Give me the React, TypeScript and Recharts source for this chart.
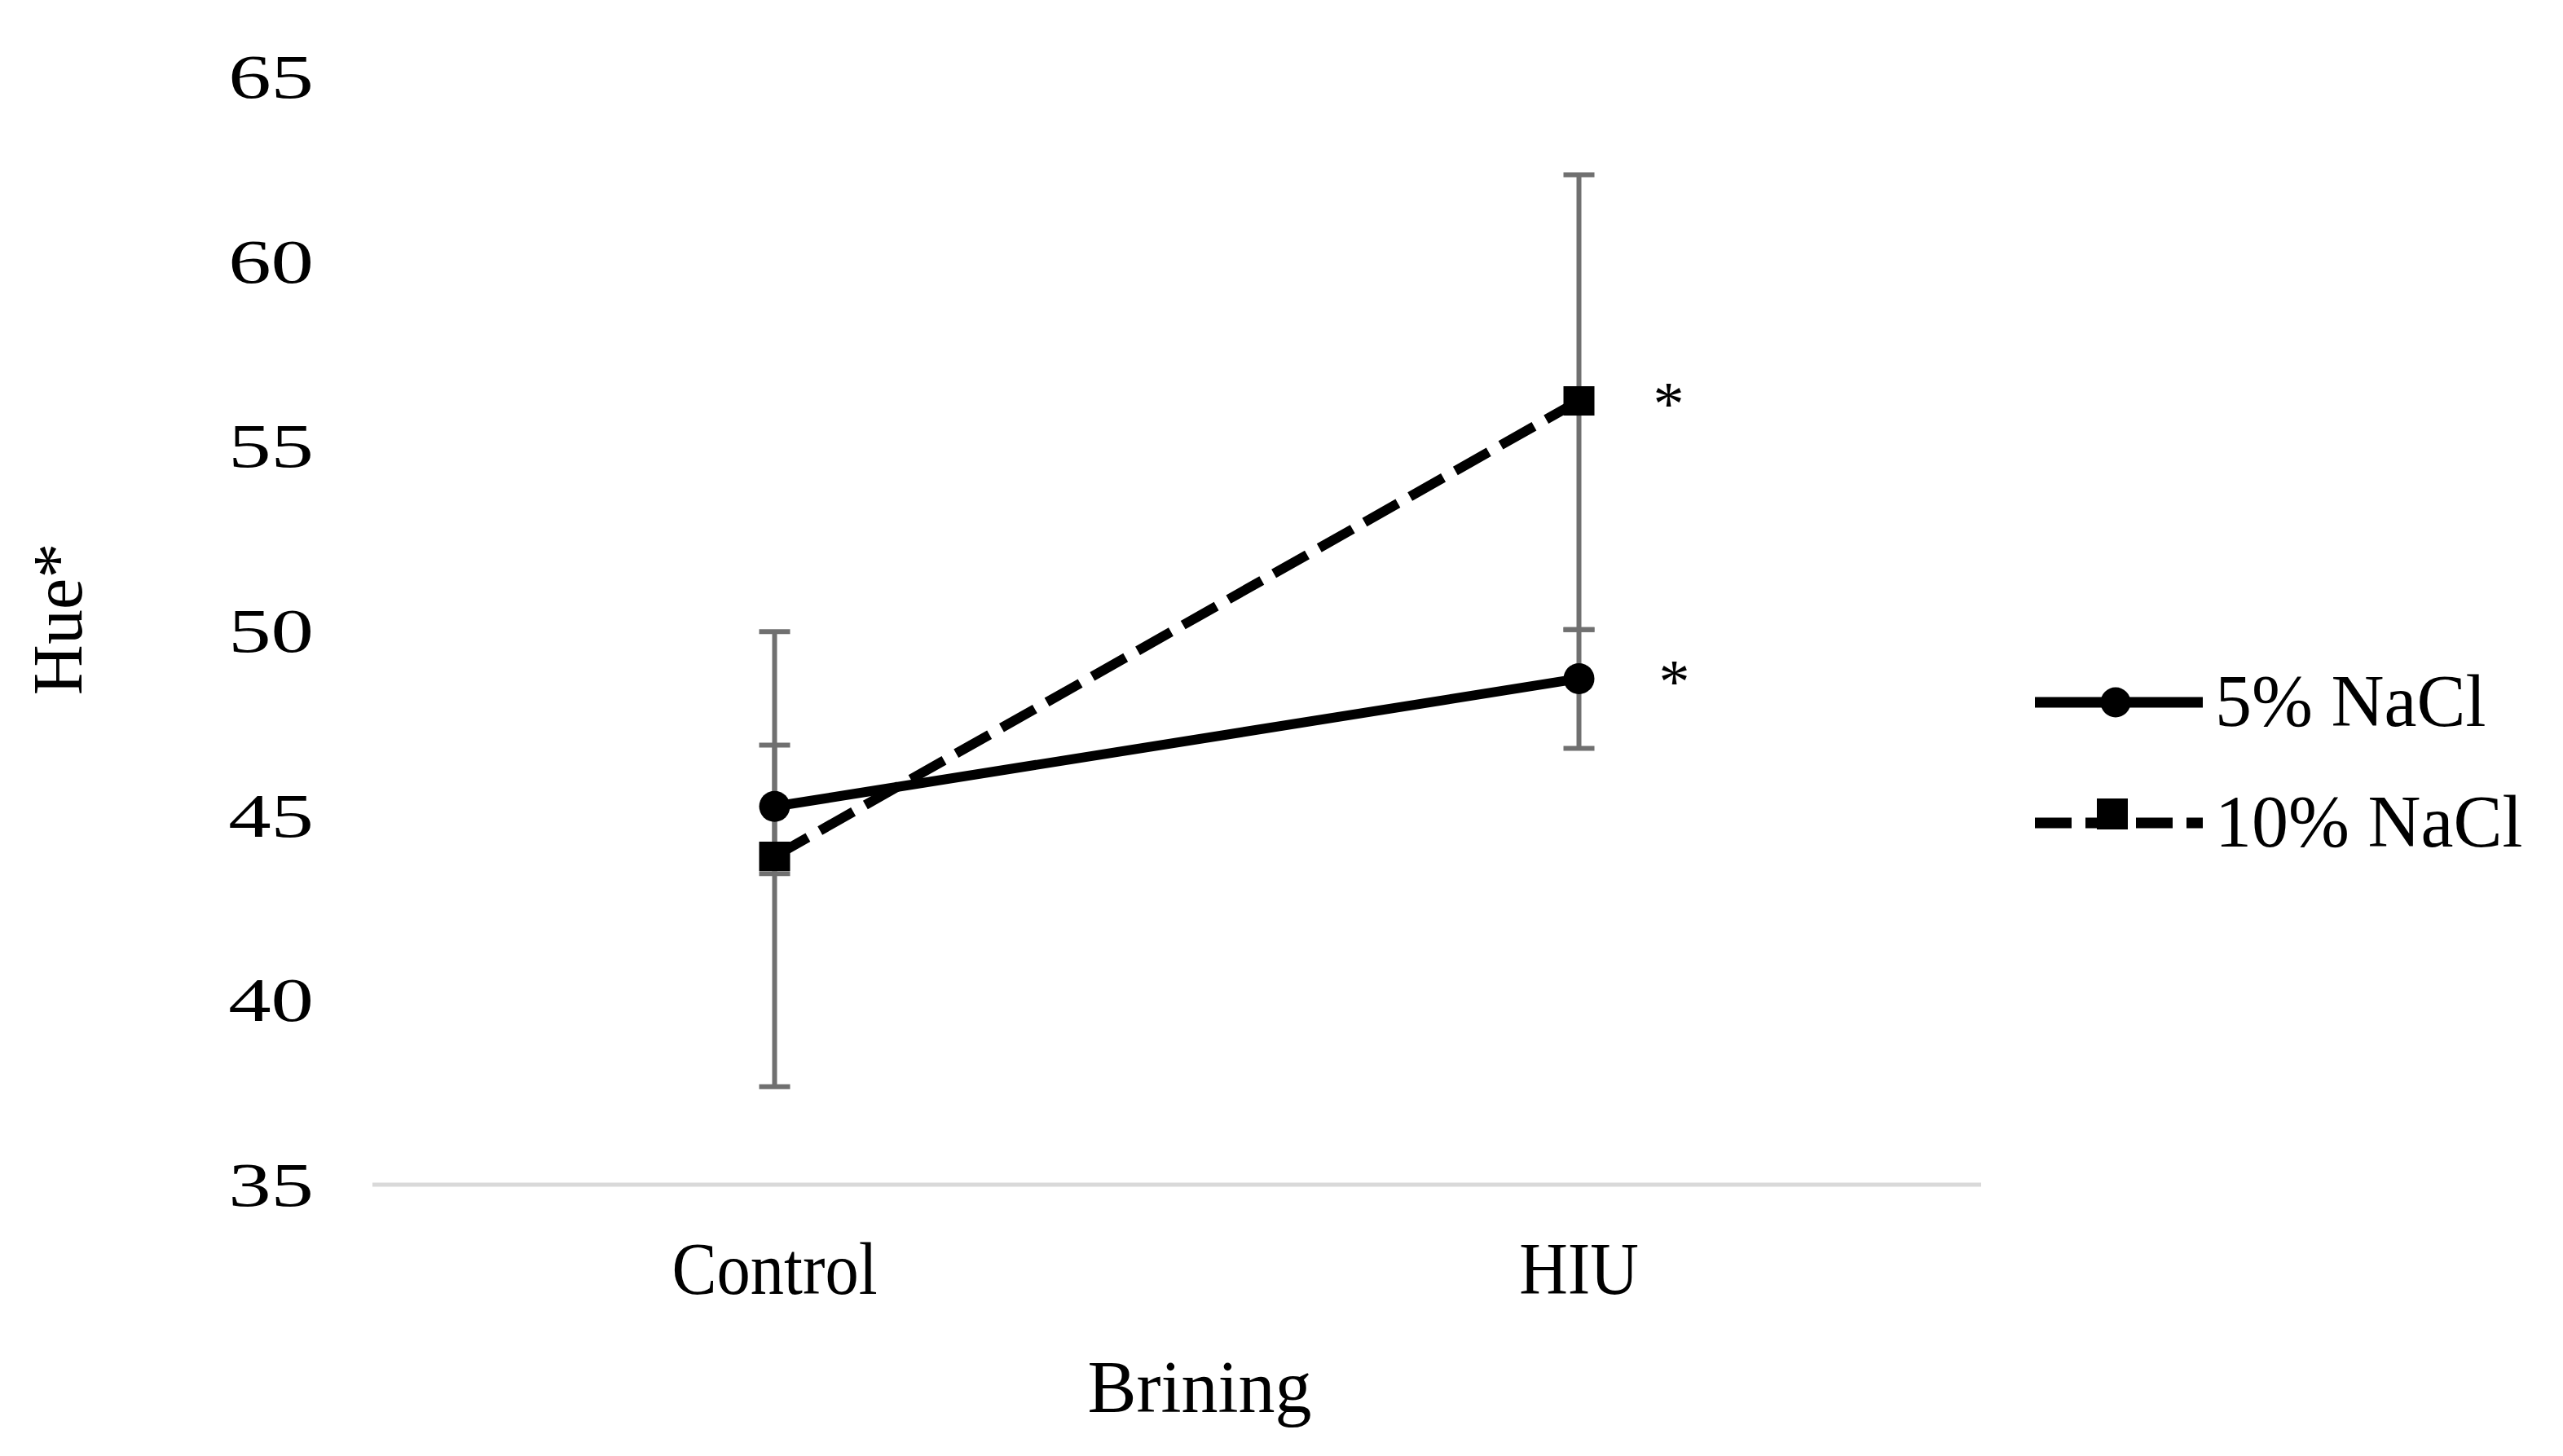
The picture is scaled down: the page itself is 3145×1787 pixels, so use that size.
import React from 'react';
import { LineChart, Line, XAxis, YAxis, ErrorBar, LabelList } from 'recharts';

// ---- data ----
const categories = ['Control', 'HIU'];
const seriesNames = ['5% NaCl', '10% NaCl'];
const nacl5 = [45.24, 48.7];
const nacl5Err = [[1.82, 1.66], [1.89, 1.33]];
const nacl5Sig = ['', '*'];
const nacl10 = [43.89, 56.22];
const nacl10Err = [[6.24, 6.08], [6.19, 6.12]];
const nacl10Sig = ['', '*'];
const yTicks = [35, 40, 45, 50, 55, 60, 65];
const xTitle = 'Brining';
const yTitle = 'Hue*';

const data = categories.map((c, i) => ({
  cat: c,
  n5: nacl5[i],
  e5: nacl5Err[i],
  s5: nacl5Sig[i],
  n10: nacl10[i],
  e10: nacl10Err[i],
  s10: nacl10Sig[i],
}));

const FONT = "'Liberation Serif', 'Times New Roman', serif";
const W = 3145;
const H = 1787;

const YTick = (props: any) => {
  const { x, y, payload } = props;
  return (
    <g transform={`translate(${x - 72},${y + 26})`}>
      <text transform="scale(1.38,1)" textAnchor="end" fontSize={76} fontFamily={FONT} fill="#000">
        {payload.value}
      </text>
    </g>
  );
};

const XTick = (props: any) => {
  const { x, y, payload } = props;
  return (
    <g transform={`translate(${x},${y + 134})`}>
      <text transform="scale(0.96,1.05)" textAnchor="middle" fontSize={86} fontFamily={FONT} fill="#000">
        {payload.value}
      </text>
    </g>
  );
};

const sigLabel = (dx: number) => (p: any) => {
  if (!p.value) return null;
  return (
    <text x={p.x + dx} y={p.y + 29} textAnchor="middle" fontSize={76} fontFamily={FONT} fill="#000">
      {p.value}
    </text>
  );
};

const SquareDot = (p: any) => {
  if (p.cx == null || p.cy == null) return <g key={p.index} />;
  return <rect key={`sq-${p.index}`} x={p.cx - 19} y={p.cy - 18} width={38} height={36} fill="#000" />;
};

export default function App() {
  return (
    <div style={{ position: 'relative', width: W, height: H, background: '#fff' }}>
      <style>{'body{margin:0;background:#fff}'}</style>
      <LineChart
        width={W}
        height={H}
        data={data}
        margin={{ top: 94, right: 714, bottom: 133, left: 0 }}
      >
        <XAxis
          dataKey="cat"
          type="category"
          scale="point"
          padding={{ left: 493.5, right: 493.5 }}
          height={200}
          axisLine={{ stroke: '#d9d9d9', strokeWidth: 5 }}
          tickLine={false}
          tickSize={0}
          tickMargin={0}
          tick={<XTick />}
          interval={0}
        />
        <YAxis
          type="number"
          domain={[35, 65]}
          ticks={yTicks}
          allowDataOverflow
          width={457}
          axisLine={false}
          tickLine={false}
          tickSize={0}
          tickMargin={0}
          tick={<YTick />}
          interval={0}
        />
        <Line
          dataKey="n5"
          name={seriesNames[0]}
          stroke="#000"
          strokeWidth={12}
          dot={{ r: 19, fill: '#000', stroke: '#000', strokeWidth: 0 }}
          activeDot={false}
          isAnimationActive={false}
        >
          <ErrorBar dataKey="e5" direction="y" width={19} strokeWidth={6} stroke="#707070" />
          <LabelList dataKey="s5" content={sigLabel(117)} />
        </Line>
        <Line
          dataKey="n10"
          name={seriesNames[1]}
          stroke="#000"
          strokeWidth={12}
          strokeDasharray="47 17"
          dot={<SquareDot />}
          activeDot={false}
          isAnimationActive={false}
        >
          <ErrorBar dataKey="e10" direction="y" width={19} strokeWidth={6} stroke="#707070" />
          <LabelList dataKey="s10" content={sigLabel(110)} />
        </Line>
      </LineChart>
      <svg
        width={W}
        height={H}
        style={{ position: 'absolute', left: 0, top: 0, pointerEvents: 'none' }}
      >
        <text
          transform="translate(100,760) rotate(-90)"
          textAnchor="middle"
          fontSize={86}
          fontFamily={FONT}
          fill="#000"
        >
          {yTitle}
        </text>
        <text x={1472} y={1733} textAnchor="middle" fontSize={90} fontFamily={FONT} fill="#000">
          {xTitle}
        </text>
        {/* legend */}
        <g>
          <line x1={2497} y1={862} x2={2703} y2={862} stroke="#000" strokeWidth={13} />
          <circle cx={2596} cy={862} r={18.5} fill="#000" />
          <text x={2718} y={891} fontSize={90} fontFamily={FONT} fill="#000">
            {seriesNames[0]}
          </text>
        </g>
        <g>
          <line
            x1={2497}
            y1={1010}
            x2={2703}
            y2={1010}
            stroke="#000"
            strokeWidth={13}
            strokeDasharray="45 17"
          />
          <rect x={2573} y={980} width={38} height={38} fill="#000" />
          <text x={2718} y={1039} fontSize={90} fontFamily={FONT} fill="#000">
            {seriesNames[1]}
          </text>
        </g>
      </svg>
    </div>
  );
}
